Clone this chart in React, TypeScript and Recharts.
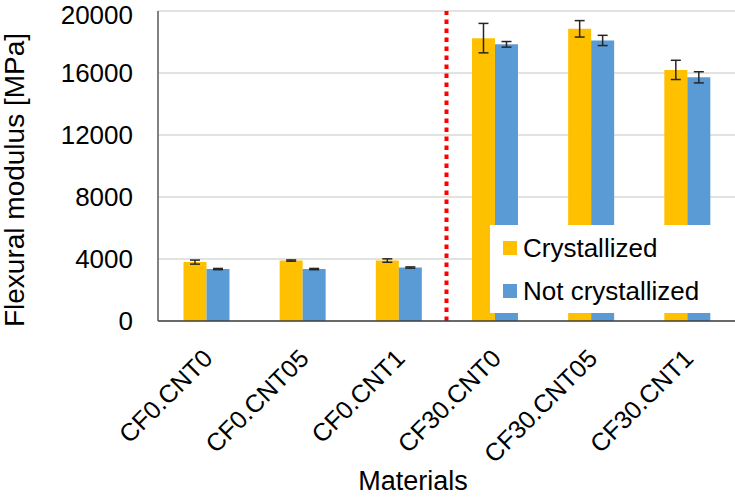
import React from 'react';
import { BarChart, Bar, XAxis, YAxis, CartesianGrid, ErrorBar, ReferenceLine } from 'recharts';

const categories = ['CF0.CNT0', 'CF0.CNT05', 'CF0.CNT1', 'CF30.CNT0', 'CF30.CNT05', 'CF30.CNT1'];
const crystallized = [3800, 3900, 3900, 18250, 18850, 16200];
const crystallizedErr = [130, 40, 110, 950, 530, 620];
const notCrystallized = [3350, 3350, 3450, 17850, 18100, 15720];
const notCrystallizedErr = [40, 40, 40, 180, 330, 360];
const yTicks = [0, 4000, 8000, 12000, 16000, 20000];
const seriesNames = ['Crystallized', 'Not crystallized'];
const seriesColors = ['#FFC000', '#5B9BD5'];

const data = categories.map((c, i) => ({
  name: c,
  cr: crystallized[i],
  crErr: crystallizedErr[i],
  nc: notCrystallized[i],
  ncErr: notCrystallizedErr[i],
}));

const FONT = '"Liberation Sans", Arial, sans-serif';

const XTick = (props: any) => {
  const { x, y, payload } = props;
  const tx = x + 8;
  const ty = y + 37;
  return (
    <text x={tx} y={ty} textAnchor="end" fontSize={25} fontFamily={FONT} fill="#000"
      transform={`rotate(-45, ${tx}, ${ty})`}>
      {payload.value}
    </text>
  );
};

export default function App() {
  return (
    <div style={{ position: 'absolute', left: 0, top: 0, width: 735, height: 497, background: '#fff', fontFamily: FONT }}>
      <BarChart width={735} height={497} data={data}
        margin={{ top: 11, right: 0, left: 0, bottom: 0 }}
        barCategoryGap="26.5%" barGap={0}>
        <CartesianGrid vertical={false} stroke="#d9d9d9" strokeWidth={1.5} />
        <XAxis dataKey="name" height={176} tickSize={0} tickLine={false} interval={0}
          axisLine={{ stroke: '#404040', strokeWidth: 1.5 }} tick={<XTick />}
          label={{
            content: () => (
              <text x={413} y={490} textAnchor="middle" fontSize={27} fontFamily={FONT} fill="#000">Materials</text>
            ),
          }} />
        <YAxis width={158} domain={[0, 20000]} ticks={yTicks} tickSize={0} tickMargin={25} tickLine={false}
          axisLine={{ stroke: '#595959', strokeWidth: 1.5 }}
          tick={{ fontSize: 26, fill: '#000', fontFamily: FONT }}
          label={{
            content: () => (
              <text x={24} y={180} textAnchor="middle" fontSize={28} fontFamily={FONT} fill="#000"
                transform="rotate(-90, 24, 180)">Flexural modulus [MPa]</text>
            ),
          }} />
        <Bar dataKey="cr" name={seriesNames[0]} fill={seriesColors[0]} isAnimationActive={false}>
          <ErrorBar dataKey="crErr" width={5} stroke="#262626" strokeWidth={1.5} />
        </Bar>
        <Bar dataKey="nc" name={seriesNames[1]} fill={seriesColors[1]} isAnimationActive={false}>
          <ErrorBar dataKey="ncErr" width={5} stroke="#262626" strokeWidth={1.5} />
        </Bar>
        <ReferenceLine x={categories[3]} position="start" stroke="#FF0000" strokeWidth={4} strokeDasharray="4.5 4.5" ifOverflow="extendDomain" />
      </BarChart>
      <div style={{ position: 'absolute', left: 490, top: 225, width: 245, height: 88, background: '#fff' }}>
        {seriesNames.map((n, i) => (
          <div key={n} style={{ position: 'absolute', left: 13, top: 8 + i * 43, height: 30, display: 'flex', alignItems: 'center' }}>
            <div style={{ width: 14, height: 14, background: seriesColors[i], marginRight: 6 }} />
            <span style={{ fontSize: 26, color: '#000', lineHeight: '30px' }}>{n}</span>
          </div>
        ))}
      </div>
    </div>
  );
}
